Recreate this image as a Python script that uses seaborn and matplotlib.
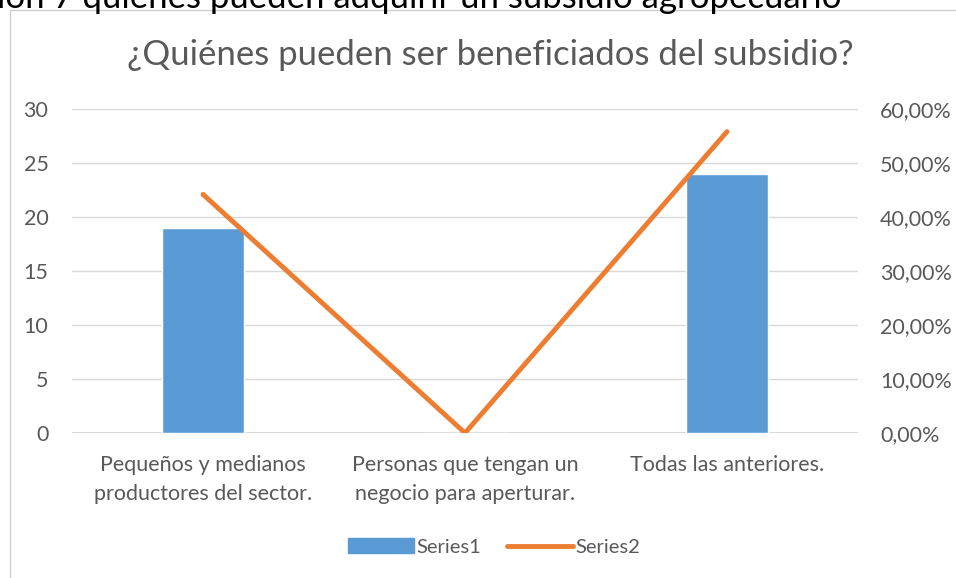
import pandas as pd
import seaborn as sns
import matplotlib.pyplot as plt
from matplotlib.patches import Rectangle
from matplotlib.lines import Line2D
from matplotlib.ticker import FuncFormatter

categorias = [
    'Pequeños y medianos\nproductores del sector.',
    'Personas que tengan un\nnegocio para aperturar.',
    'Todas las anteriores.'
    ]
series1 = [19, 0, 24]
series2 = [0.4419, 0.0, 0.5581]

titulo = '¿Quiénes pueden ser beneficiados del subsidio?'
texto_arriba = 'ión 7 quiénes pueden adquirir un subsidio agropecuario'

azul = '#5B9BD5'
naranja = '#ED7D31'
gris_texto = '#595959'
gris_grid = '#D9D9D9'

sns.set_theme(style='white')
plt.rcParams['font.family'] = ['Lato', 'DejaVu Sans']

df = pd.DataFrame({'cat': categorias, 'Series1': series1, 'Series2': series2})

fig = plt.figure(figsize=(9.56, 5.78), dpi=100)
ax = fig.add_axes([72/956, 1 - 433/578, 786/956, 324/578])

# marco del grafico
fig.patches.append(Rectangle((10/956, -0.01), 1.0, 1 - 10/578 + 0.01, transform=fig.transFigure,
                             fill=False, edgecolor='#D0D0D0', linewidth=1))
fig.text(-0.003, 1 + 2/578, texto_arriba, fontsize=25, color='black', va='center', ha='left')

sns.barplot(data=df, x='cat', y='Series1', color=azul, width=0.31, saturation=1, ax=ax, zorder=3)
ax.set_ylim(0, 30)
ax.set_yticks(range(0, 31, 5))
ax.yaxis.grid(True, color=gris_grid, linewidth=1)
ax.set_axisbelow(True)
for s in ax.spines.values():
    s.set_visible(False)
ax.axhline(0, color=gris_grid, linewidth=1.5, zorder=2)
ax.set_xlabel('')
ax.set_ylabel('')
ax.tick_params(axis='both', length=0, labelsize=15.5, labelcolor=gris_texto)
ax.tick_params(axis='y', pad=17)
ax.tick_params(axis='x', pad=16)
for lbl in ax.get_xticklabels():
    lbl.set_linespacing(1.55)

ax2 = ax.twinx()
sns.lineplot(x=[0, 1, 2], y=df['Series2'], color=naranja, linewidth=3.5, ax=ax2, sort=False,
             zorder=4)
ax2.set_ylim(0, 0.6)
ax2.set_yticks([i / 10 for i in range(7)])
ax2.yaxis.set_major_formatter(FuncFormatter(lambda v, p: f'{v*100:.2f}%'.replace('.', ',')))
ax2.tick_params(axis='y', length=0, labelsize=15.5, labelcolor=gris_texto, pad=16)
ax2.set_ylabel('')
for s in ax2.spines.values():
    s.set_visible(False)
ax.set_xlim(-0.5, 2.5)

fig.text(490/956, 1 - 55/578, titulo, fontsize=25, color=gris_texto, ha='center', va='center')

handles = [Rectangle((0, 0), 1, 1, color=azul), Line2D([0], [0], color=naranja, linewidth=3.5)]
fig.legend(handles, ['Series1', 'Series2'], loc='center', bbox_to_anchor=(494/956, 1 - 547/578),
           ncol=2, frameon=False, fontsize=14.5, labelcolor=gris_texto, handlelength=3.3,
           handletextpad=0.1, columnspacing=1.3)

fig.savefig('out.png', dpi=100)
